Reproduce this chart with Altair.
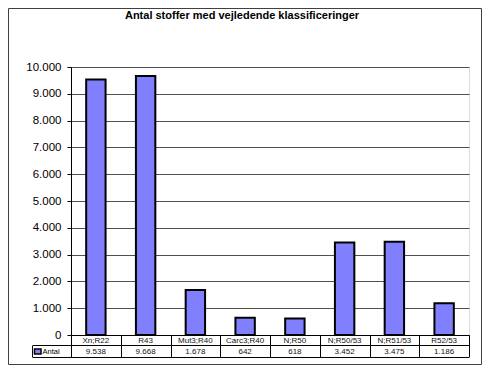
import altair as alt
import pandas as pd

categories = ["Xn;R22", "R43", "Mut3;R40", "Carc3;R40", "N;R50", "N;R50/53", "N;R51/53", "R52/53"]
values = [9538, 9668, 1678, 642, 618, 3452, 3475, 1186]
y_ticks = [0, 1000, 2000, 3000, 4000, 5000, 6000, 7000, 8000, 9000, 10000]
series_name = "Antal"
title_text = "Antal stoffer med vejledende klassificeringer"

FONT = "Liberation Sans"
BAR = "#8080FF"
W, H = 398, 268

df = pd.DataFrame({"cat": categories, "value": values})
one = pd.DataFrame({"t": [title_text], "s": [series_name]})

fmt = "replace(format(datum.value, ','), ',', '.')"

xscale = alt.Scale(domain=categories, paddingInner=0, paddingOuter=0)
xenc = alt.X("cat:N", sort=categories, scale=xscale,
             axis=alt.Axis(title=None, labels=False, domainColor="black", domainWidth=1,
                           tickColor="black", tickBand="extent", tickSize=22, grid=False))

base = alt.Chart(df).transform_calculate(label=fmt)

bars = base.mark_bar(fill=BAR, stroke="black", strokeWidth=2,
                     width=alt.RelativeBandSize(0.39)).encode(
    x=xenc,
    y=alt.Y("value:Q", scale=alt.Scale(domain=[0, 10000], nice=False, zero=True),
            axis=alt.Axis(values=y_ticks, labelExpr=fmt, title=None, grid=True,
                          gridColor="#505050", gridWidth=1, tickSize=4, tickColor="black",
                          domainColor="black", labelFontSize=11.5, labelFont=FONT,
                          labelColor="black", labelPadding=6)),
)

cat_text = base.mark_text(fontSize=8, font=FONT, color="#111111").encode(
    x=xenc, y=alt.value(273.5), text="cat:N")
val_text = base.mark_text(fontSize=8, font=FONT, color="#111111").encode(
    x=xenc, y=alt.value(284.5), text="label:N")

c1 = alt.Chart(one)
row_line = c1.mark_rule(color="black", strokeWidth=1).encode(
    x=alt.value(-38), x2=alt.value(W), y=alt.value(278.5))
bot_line = c1.mark_rule(color="black", strokeWidth=1).encode(
    x=alt.value(-38), x2=alt.value(W), y=alt.value(290.5))
left_line = c1.mark_rule(color="black", strokeWidth=1).encode(
    x=alt.value(-38.5), y=alt.value(278.5), y2=alt.value(290.5))
swatch = c1.mark_rect(fill=BAR, stroke="black", strokeWidth=1.5).encode(
    x=alt.value(-36.5), x2=alt.value(-30), y=alt.value(282), y2=alt.value(287))
leg_text = c1.mark_text(fontSize=7.5, font=FONT, color="black", align="left").encode(
    x=alt.value(-28.5), y=alt.value(284.5), text="s:N")
title = c1.mark_text(fontSize=11, font=FONT, fontWeight="bold", color="black",
                     baseline="top").encode(
    x=alt.value(171), y=alt.value(-57.5), text="t:N")
frame = c1.mark_rect(fill=None, stroke="#404040", strokeWidth=1).encode(
    x=alt.value(-62.5), x2=alt.value(410.5), y=alt.value(-58.5), y2=alt.value(297.5))

chart = alt.layer(frame, title, bars, cat_text, val_text, row_line, bot_line, left_line,
                  swatch, leg_text).properties(
    width=W, height=H,
    autosize=alt.AutoSizeParams(type="none"),
    padding={"left": 63, "top": 59, "right": 13, "bottom": 30},
).configure_view(stroke="#808080", strokeWidth=2).configure(background="white")

chart.save("out.html", embed_options={"renderer": "svg", "actions": False})
